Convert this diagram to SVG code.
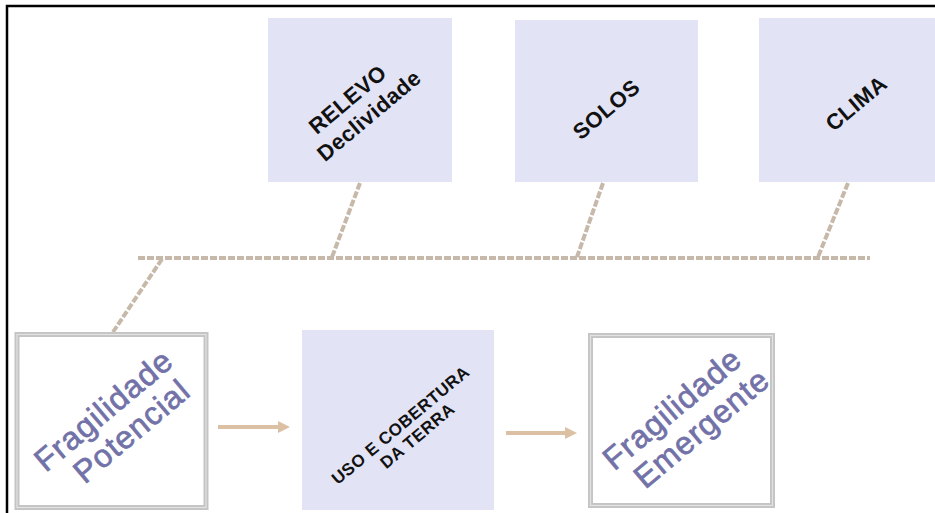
<svg xmlns="http://www.w3.org/2000/svg" width="935" height="513" viewBox="0 0 935 513">
  <defs>
    <style>
      .lav { fill: #e2e3f5; }
      .frame { fill: #ffffff; stroke: #c4c4c4; stroke-width: 5; }
      .frame-in { fill: none; stroke: #e2e2e2; stroke-width: 1.2; }
      .lbl { font-family: "Liberation Sans", Arial, sans-serif; font-weight: bold; fill: #111111; text-anchor: middle; letter-spacing: 0.5px; }
      .frag { font-family: "Liberation Sans", Arial, sans-serif; font-size: 32px; fill: #7272a8; stroke: #7272a8; stroke-width: 0.7; text-anchor: middle; letter-spacing: 1px; }
      .dash { fill: none; stroke: #c6b9aa; stroke-width: 4; stroke-dasharray: 7 2; }
      .arrow { fill: none; stroke: #dcc0a4; stroke-width: 4; }
    </style>
    <marker id="ah" markerWidth="3" markerHeight="3" refX="0.5" refY="1.5" orient="auto" markerUnits="strokeWidth">
      <path d="M0,0 L3,1.5 L0,3 Z" fill="#dcc0a4"/>
    </marker>
  </defs>

  <rect x="0" y="0" width="935" height="513" fill="#ffffff"/>
  <path d="M7,513 L7,6 L935,6" fill="none" stroke="#000000" stroke-width="2.5"/>

  <g id="connectors">
    <line class="dash" x1="138" y1="258" x2="870" y2="258"/>
    <line class="dash" x1="360" y1="183" x2="332" y2="257"/>
    <line class="dash" x1="603" y1="183" x2="577" y2="257"/>
    <line class="dash" x1="848" y1="183" x2="818" y2="257"/>
    <line class="dash" x1="162" y1="259" x2="113" y2="332"/>
    <line class="arrow" x1="218" y1="427" x2="280" y2="427" marker-end="url(#ah)"/>
    <line class="arrow" x1="506" y1="433" x2="567" y2="433" marker-end="url(#ah)"/>
  </g>

  <g id="relevo">
    <rect class="lav" x="268" y="18" width="184" height="164"/>
    <g transform="translate(361,106) rotate(-40)">
      <text class="lbl" font-size="22" x="-6" y="-6">RELEVO</text>
      <text class="lbl" font-size="22" x="0" y="20">Declividade</text>
    </g>
  </g>

  <g id="solos">
    <rect class="lav" x="515" y="20" width="183" height="162"/>
    <g transform="translate(606,109) rotate(-40)">
      <text class="lbl" font-size="22" x="0" y="8">SOLOS</text>
    </g>
  </g>

  <g id="clima">
    <rect class="lav" x="759" y="18" width="183" height="164"/>
    <g transform="translate(856,103) rotate(-40)">
      <text class="lbl" font-size="22" x="0" y="8">CLIMA</text>
    </g>
  </g>

  <g id="fragilidade-potencial">
    <rect class="frame" x="17" y="334.5" width="189" height="173"/>
    <rect class="frame-in" x="17" y="334.5" width="189" height="173"/>
    <g transform="translate(116,422) rotate(-40)">
      <text class="frag" x="-2" y="-6">Fragilidade</text>
      <text class="frag" x="6" y="28">Potencial</text>
    </g>
  </g>

  <g id="uso-cobertura">
    <rect class="lav" x="302" y="330" width="192" height="180"/>
    <g transform="translate(410,430) rotate(-40)">
      <text class="lbl" font-size="17" x="-4" y="-4">USO E COBERTURA</text>
      <text class="lbl" font-size="17" x="2" y="15">DA TERRA</text>
    </g>
  </g>

  <g id="fragilidade-emergente">
    <rect class="frame" x="590.5" y="335.5" width="182" height="170"/>
    <rect class="frame-in" x="590.5" y="335.5" width="182" height="170"/>
    <g transform="translate(686,419) rotate(-40)">
      <text class="frag" x="-4" y="-6">Fragilidade</text>
      <text class="frag" x="6" y="28">Emergente</text>
    </g>
  </g>
</svg>
